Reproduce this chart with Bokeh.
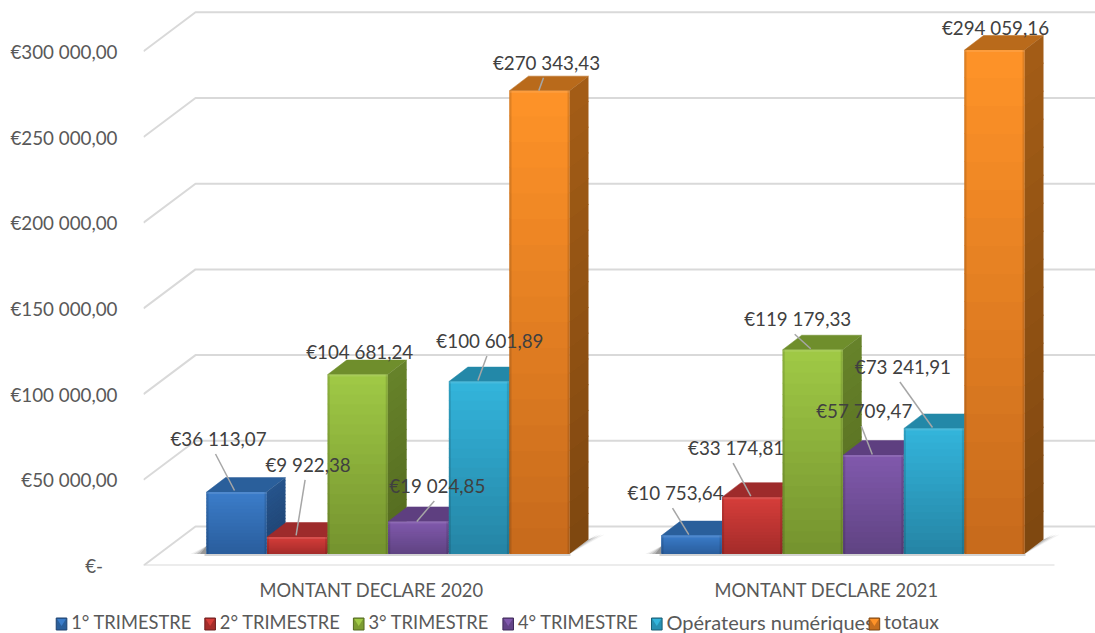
from bokeh.plotting import figure
from bokeh.embed import file_html
from bokeh.layouts import column
from bokeh.resources import INLINE
from bokeh.models import FixedTicker, Range1d, ColumnDataSource
from bokeh.core.properties import value

# ---------- data ----------
GROUPS = ["MONTANT DECLARE 2020", "MONTANT DECLARE 2021"]
SERIES = ["1° TRIMESTRE", "2° TRIMESTRE", "3° TRIMESTRE", "4° TRIMESTRE", "Opérateurs numériques", "totaux"]
T1 = [36113.07, 10753.64]
T2 = [9922.38, 33174.81]
T3 = [104681.24, 119179.33]
T4 = [19024.85, 57709.47]
OPS = [100601.89, 73241.91]
TOT = [270343.43, 294059.16]
VALUES = [T1, T2, T3, T4, OPS, TOT]
LABELS = [
    ["€36 113,07", "€10 753,64"], ["€9 922,38", "€33 174,81"], ["€104 681,24", "€119 179,33"],
    ["€19 024,85", "€57 709,47"], ["€100 601,89", "€73 241,91"], ["€270 343,43", "€294 059,16"],
]
TICKS = [0, 50000, 100000, 150000, 200000, 250000, 300000]
TICK_LABELS = ["€-\u00a0\u00a0\u00a0", "€50 000,00", "€100 000,00", "€150 000,00", "€200 000,00", "€250 000,00", "€300 000,00"]

# ---------- layout (pixels) ----------
PAGE_W, PAGE_H = 1095, 633
LEFT = 143
FRAME_W = PAGE_W - LEFT
FRAME_H = 565
BELOW = 35        # room for the group names
LEGEND_H = PAGE_H - FRAME_H - BELOW
PX_PER_CAT = 455.0
PX_PER_VAL = 85.7 / 50000
X0_PX = 228.0     # category 0 centre from frame left
dx = lambda px: px / PX_PER_CAT
dy = lambda px: px / PX_PER_VAL

WALL_X, WALL_Y = 52, 39     # depth of the floor / side wall
PLANE_X, PLANE_Y = 16.5, 11.5  # bar plane in front of the wall
BAR_D_X, BAR_D_Y = 19, 14.5  # depth of a bar
BAR_W = 60.0
BAR_STEP = 60.6

# legend strip placement
SWATCH_LEFT = [63, 231, 399, 568, 736, 982]
SWATCH_SIZE = 12
SWATCH_TOP = 617.5
LEGEND_TEXT_Y = 621
LEGEND_STANDOFF = 17
LEGEND_SIZES = ["18.3px", "18.3px", "18.3px", "18.3px", "20px", "19.4px"]

# label placement relative to a bar's top-front-centre (px: right, up)
LABEL_DX = [[-18, -16], [11, -16], [2, -15], [19, -9], [11, -31], [7, 1]]
LABEL_DY = [[53.6, 43], [72.5, 49.6], [23, 31], [36, 44.6], [41, 62], [28.3, 22]]
# leader end on the bar, relative to same anchor; None = no leader
LEADER_END = [[(-2, 1.6), (-2.7, 1)], [(-1, 1.5), (-1.3, 1)], [None, (-2, 1)],
              [(-1.5, 0), (-1, 0.5)], [(-1, 1), (-1.4, 1)], [(-0.7, 0), None]]

# colours: front top, front bottom, top face, side top, side bottom, swatch
COLORS = [
    ("#3b7dca", "#2a5d9c", "#2a5f9b", "#26548c", "#1e4270", "#2a5f9b"),
    ("#d63e3a", "#a42b2a", "#9e2b2b", "#8d2726", "#6f1f1f", "#a52d2b"),
    ("#a0ca46", "#74922e", "#6f8e2c", "#67832a", "#53691f", "#7c9c32"),
    ("#8159ad", "#5f4382", "#5e3f80", "#523772", "#402b5a", "#634488"),
    ("#33b5dc", "#2584a4", "#2388a8", "#1f7793", "#185f76", "#2790b2"),
    ("#ff9328", "#c66a1c", "#b96a1b", "#a45d16", "#7e4710", "#c66f1e"),
]
GRID = "#d9d9d9"
TXT_AXIS = "#595959"
TXT_LABEL = "#404040"
FONT = "Lato"
NB = 18


def mix(a, b, t):
    ca = [int(a[i:i + 2], 16) for i in (1, 3, 5)]
    cb = [int(b[i:i + 2], 16) for i in (1, 3, 5)]
    return "#%02x%02x%02x" % tuple(round(x + (y - x) * t) for x, y in zip(ca, cb))


p = figure(frame_width=FRAME_W, frame_height=FRAME_H, output_backend="svg", toolbar_location=None,
           min_border_left=LEFT, min_border_right=0, min_border_top=0, min_border_bottom=BELOW,
           x_range=Range1d(dx(-X0_PX), dx(FRAME_W - X0_PX)), y_range=Range1d(0, dy(FRAME_H)),
           outline_line_color=None, background_fill_color="white", border_fill_color="white")
p.xgrid.visible = False
p.ygrid.visible = False

# axes
p.yaxis.ticker = FixedTicker(ticks=TICKS)
p.yaxis.major_label_overrides = dict(zip(TICKS, TICK_LABELS))
p.yaxis.axis_line_color = None
p.yaxis.major_tick_line_color = None
p.yaxis.minor_tick_line_color = None
p.yaxis.major_label_standoff = 20
p.yaxis.major_label_text_font = FONT
p.yaxis.major_label_text_font_size = "18.8px"
p.yaxis.major_label_text_color = TXT_AXIS
p.xaxis.ticker = FixedTicker(ticks=[0, 1])
p.xaxis.major_label_overrides = dict(zip([0, 1], GROUPS))
p.xaxis.axis_line_color = None
p.xaxis.major_tick_line_color = None
p.xaxis.minor_tick_line_color = None
p.xaxis.major_label_standoff = 7
p.xaxis.major_label_text_font = FONT
p.xaxis.major_label_text_font_size = "18.3px"
p.xaxis.major_label_text_color = TXT_AXIS

# walls
xleft = dx(-X0_PX)
xs, ys = [], []
for t in TICKS:
    xs.append([xleft, xleft + dx(WALL_X), dx(FRAME_W - X0_PX)])
    ys.append([t, t + dy(WALL_Y), t + dy(WALL_Y)])
p.multi_line(xs, ys, line_color=GRID, line_width=2)
p.line([xleft, xleft + dx(911)], [0, 0], line_color=GRID, line_width=2)


def bar_px(g, s):
    """centre of bar front, data x"""
    return g + dx(PLANE_X + (s - 2.5) * BAR_STEP)


off = dy(PLANE_Y)

# floor shadows
for g in range(2):
    right = bar_px(g, 5) + dx(BAR_W / 2)
    left = bar_px(g, 0) - dx(BAR_W / 2)
    for k, a in zip((1.0, 0.8, 0.6, 0.4), (0.08, 0.14, 0.2, 0.28)):
        p.patch([right, right + dx(BAR_D_X), right + dx(BAR_D_X + 16 * k)],
                [off, off + dy(BAR_D_Y), off + dy(BAR_D_Y + 5)],
                fill_color="#404040", fill_alpha=a, line_color=None)
        p.patch([left, left, left - dx(16 * k)], [off, off + dy(8), off],
                fill_color="#404040", fill_alpha=a, line_color=None)
    p.quad(left=[left - dx(2)], right=[right + dx(1)], bottom=[off - dy(2)], top=[off],
           fill_color="#808080", fill_alpha=0.35, line_color=None)

# bars, painted from left to right
for s, vals in enumerate(VALUES):
    front_t, front_b, top_c, side_t, side_b, swatch = COLORS[s]
    pos = [bar_px(g, s) for g in range(2)]
    hw = dx(BAR_W / 2)
    p.vbar(x=pos, top=[v + off for v in vals], bottom=off, width=2 * hw,
           fill_color=swatch, line_color=None)
    for x, v in zip(pos, vals):
        r = x + hw
        l = x - hw
        top = v + off
        # top face
        p.patch([l, l + dx(BAR_D_X), r + dx(BAR_D_X), r], [top, top + dy(BAR_D_Y), top + dy(BAR_D_Y), top],
                fill_color=top_c, line_color=top_c, line_width=0.5)
        # side and front in vertical bands (each band overlaps the next one)
        bands = list(range(NB))
        y0 = [off + v * i / NB for i in bands]
        y1 = [min(top, off + v * (i + 1) / NB + dy(1)) for i in bands]
        for i in bands:
            t = (i + .5) / NB
            c = mix(side_b, side_t, t)
            p.patch([r, r + dx(BAR_D_X), r + dx(BAR_D_X), r],
                    [y0[i], y0[i] + dy(BAR_D_Y), y1[i] + dy(BAR_D_Y), y1[i]],
                    fill_color=c, line_color=None)
        p.quad(left=l, right=r, bottom=y0, top=y1,
               fill_color=[mix(front_b, front_t, (i + .5) / NB) for i in bands], line_color=None)
        # bevel
        p.quad(left=[l], right=[l + dx(2)], bottom=[off], top=[top], fill_color="#000000", fill_alpha=0.12, line_color=None)
        p.quad(left=[r - dx(2)], right=[r], bottom=[off], top=[top], fill_color="#000000", fill_alpha=0.12, line_color=None)
        p.quad(left=[l], right=[r], bottom=[top - dy(2)], top=[top], fill_color="#ffffff", fill_alpha=0.10, line_color=None)

# leaders and data labels
for s, vals in enumerate(VALUES):
    for g, v in enumerate(vals):
        ax = bar_px(g, s)
        ay = v + off
        lx = ax + dx(LABEL_DX[s][g])
        ly = ay + dy(LABEL_DY[s][g])
        end = LEADER_END[s][g]
        if end is not None:
            p.segment(x0=[lx - dx(3)], y0=[ly - dy(15.5)], x1=[ax + dx(end[0])], y1=[ay + dy(end[1])],
                      line_color="#a6a6a6", line_width=1.5)
for s, vals in enumerate(VALUES):
    src = ColumnDataSource(dict(
        x=[bar_px(g, s) + dx(LABEL_DX[s][g]) for g in range(2)],
        y=[vals[g] + off + dy(LABEL_DY[s][g]) for g in range(2)],
        t=LABELS[s]))
    p.text(x="x", y="y", text="t", source=src, text_align="center", text_baseline="middle",
           text_font=value(FONT), text_font_size="18.8px", text_color=TXT_LABEL)

# legend strip, a figure of its own in page pixels so that it may run under the axis
strip = figure(frame_width=PAGE_W + LEFT, frame_height=LEGEND_H, output_backend="svg", toolbar_location=None,
               min_border=0, x_axis_location=None, y_axis_location=None,
               x_range=Range1d(0, PAGE_W + LEFT), y_range=Range1d(PAGE_H, PAGE_H - LEGEND_H),
               outline_line_color=None, background_fill_color="white", border_fill_color="white",
               margin=(-3, 0, 0, -LEFT))
strip.xgrid.visible = False
strip.ygrid.visible = False
for s, left in enumerate(SWATCH_LEFT):
    front_t, front_b, top_c, side_t, side_b, swatch = COLORS[s]
    rgt = left + SWATCH_SIZE
    bot = SWATCH_TOP + SWATCH_SIZE
    strip.quad(left=[left], right=[rgt], top=[SWATCH_TOP], bottom=[bot], fill_color=swatch,
               line_color=side_b, line_width=1)
    strip.patch([left + 1, rgt - 1, left + SWATCH_SIZE / 2],
                [SWATCH_TOP + 1, SWATCH_TOP + 1, SWATCH_TOP + 8], fill_color=front_t, line_color=None)
    strip.text(x=[left + LEGEND_STANDOFF], y=[LEGEND_TEXT_Y], text=[SERIES[s]], text_align="left",
               text_baseline="middle", text_font=value(FONT), text_font_size=LEGEND_SIZES[s],
               text_color=TXT_AXIS)

open("out.html", "w").write(file_html(column(p, strip, spacing=0), INLINE))
